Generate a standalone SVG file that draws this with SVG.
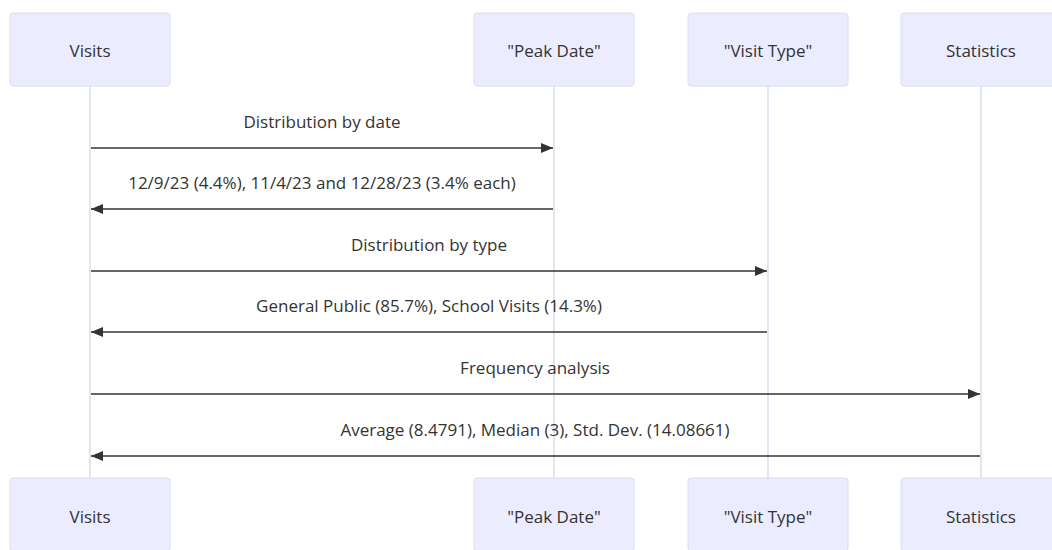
<svg xmlns="http://www.w3.org/2000/svg" width="1052" height="550" viewBox="0 0 1052 550">
<style>
.actor{fill:#ececff;stroke:#dcdcf0;stroke-width:1}
.atext{font-family:"Open Sans",sans-serif;font-size:17px;fill:#333;text-anchor:middle;dominant-baseline:central}
.life{stroke:#d4d4ea;stroke-width:1.2}
.msg{stroke:#333;stroke-width:1.6;fill:none}
.mtext{font-family:"Open Sans",sans-serif;font-size:17px;fill:#333;text-anchor:middle}
</style>
<defs>
<marker id="ah" markerWidth="12" markerHeight="10" refX="12" refY="5" orient="auto" markerUnits="userSpaceOnUse">
<path d="M0,0 L12,5 L0,10 z" fill="#333"/>
</marker>
</defs>
<rect width="1052" height="550" fill="#fff"/>
<g id="lifelines">
<line class="life" x1="90" y1="86" x2="90" y2="478"/>
<line class="life" x1="554" y1="86" x2="554" y2="478"/>
<line class="life" x1="768" y1="86" x2="768" y2="478"/>
<line class="life" x1="981" y1="86" x2="981" y2="478"/>
</g>
<g id="actor-visits-top"><rect class="actor" x="10" y="13" width="160" height="73" rx="3"/><text class="atext" x="90" y="50">Visits</text></g>
<g id="actor-peak-top"><rect class="actor" x="474" y="13" width="160" height="73" rx="3"/><text class="atext" x="554" y="50">"Peak Date"</text></g>
<g id="actor-type-top"><rect class="actor" x="688" y="13" width="160" height="73" rx="3"/><text class="atext" x="768" y="50">"Visit Type"</text></g>
<g id="actor-stats-top"><rect class="actor" x="901" y="13" width="160" height="73" rx="3"/><text class="atext" x="981" y="50">Statistics</text></g>
<g id="actor-visits-bottom"><rect class="actor" x="10" y="478" width="160" height="73" rx="3"/><text class="atext" x="90" y="516">Visits</text></g>
<g id="actor-peak-bottom"><rect class="actor" x="474" y="478" width="160" height="73" rx="3"/><text class="atext" x="554" y="516">"Peak Date"</text></g>
<g id="actor-type-bottom"><rect class="actor" x="688" y="478" width="160" height="73" rx="3"/><text class="atext" x="768" y="516">"Visit Type"</text></g>
<g id="actor-stats-bottom"><rect class="actor" x="901" y="478" width="160" height="73" rx="3"/><text class="atext" x="981" y="516">Statistics</text></g>
<g id="connectors">
<line class="msg" x1="91" y1="148" x2="553" y2="148" marker-end="url(#ah)"/>
<text class="mtext" x="322" y="128">Distribution by date</text>
<line class="msg" x1="553" y1="209" x2="91" y2="209" marker-end="url(#ah)"/>
<text class="mtext" x="322" y="189">12/9/23 (4.4%), 11/4/23 and 12/28/23 (3.4% each)</text>
<line class="msg" x1="91" y1="271" x2="767" y2="271" marker-end="url(#ah)"/>
<text class="mtext" x="429" y="251">Distribution by type</text>
<line class="msg" x1="767" y1="332" x2="91" y2="332" marker-end="url(#ah)"/>
<text class="mtext" x="429" y="312">General Public (85.7%), School Visits (14.3%)</text>
<line class="msg" x1="91" y1="394" x2="980" y2="394" marker-end="url(#ah)"/>
<text class="mtext" x="535" y="374">Frequency analysis</text>
<line class="msg" x1="980" y1="456" x2="91" y2="456" marker-end="url(#ah)"/>
<text class="mtext" x="535" y="436">Average (8.4791), Median (3), Std. Dev. (14.08661)</text>
</g>
</svg>
